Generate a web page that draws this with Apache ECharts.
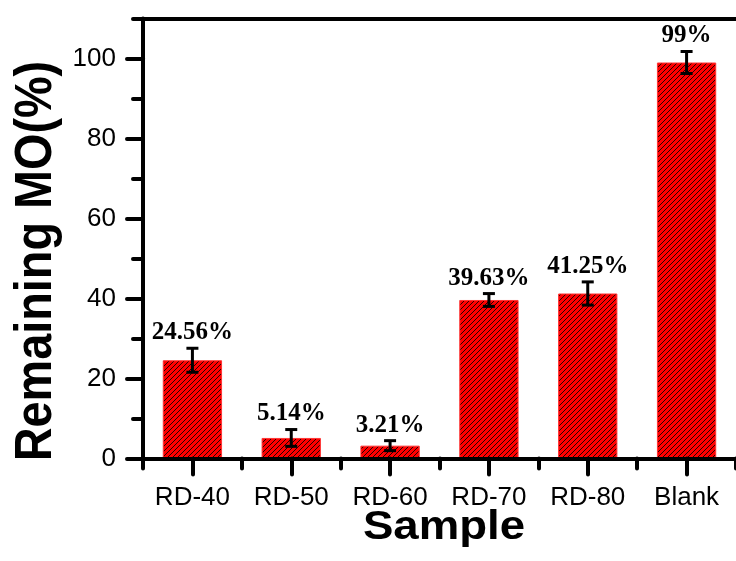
<!DOCTYPE html>
<html>
<head>
<meta charset="utf-8">
<script src="https://cdn.jsdelivr.net/npm/echarts@6/dist/echarts.min.js"></script>
<style>
  html, body { margin: 0; padding: 0; background: #fff; }
  #chart { width: 736px; height: 561px; }
</style>
</head>
<body>
<div id="chart"></div>
<script>
// ---- data ----
const categories = ['RD-40', 'RD-50', 'RD-60', 'RD-70', 'RD-80', 'Blank'];
const remaining = [24.56, 5.14, 3.21, 39.63, 41.25, 99];
const errors = [3.0, 2.1, 1.25, 1.6, 2.9, 2.75];
const yTitle = 'Remaining MO(%)';
const xTitle = 'Sample';

// ---- hatch pattern ----
function makeHatch() {
  const s = 5;
  const c = document.createElement('canvas');
  c.width = s; c.height = s;
  const g = c.getContext('2d');
  g.fillStyle = '#ff0000';
  g.fillRect(0, 0, s, s);
  g.strokeStyle = '#000';
  g.lineWidth = 0.85;
  g.beginPath();
  g.moveTo(-1, s + 1); g.lineTo(s + 1, -1);
  g.moveTo(-1, 1); g.lineTo(1, -1);
  g.moveTo(s - 1, s + 1); g.lineTo(s + 1, s - 1);
  g.stroke();
  return c;
}

const chart = echarts.init(document.getElementById('chart'), null, { renderer: 'canvas' });
const gridLeft = 143, gridWidth = 600, gridBottom = 102.5;
const axisColor = '#000';

const option = {
  backgroundColor: '#fff',
  animation: false,
  grid: [
    { left: gridLeft, width: gridWidth, top: 58.5, bottom: gridBottom },
    { left: gridLeft, width: gridWidth, top: 18.5, bottom: gridBottom }
  ],
  xAxis: [
    {
      gridIndex: 0, type: 'category', data: categories, position: 'bottom', z: 10,
      axisLine: { show: true, lineStyle: { color: axisColor, width: 4 } },
      axisTick: { show: true, alignWithLabel: true, length: 16, lineStyle: { color: axisColor, width: 4, cap: 'round' } },
      axisLabel: { show: true, margin: 26, color: '#000', fontSize: 26, fontFamily: 'Liberation Sans' },
      splitLine: { show: false }
    },
    {
      gridIndex: 1, type: 'category', data: categories, position: 'bottom', z: 10,
      axisLine: { show: false },
      axisTick: { show: true, length: 10, lineStyle: { color: axisColor, width: 4, cap: 'round' } },
      axisLabel: { show: false },
      splitLine: { show: false }
    },
    {
      gridIndex: 1, type: 'category', data: categories, position: 'top', z: 10,
      axisLine: { show: true, lineStyle: { color: axisColor, width: 4 } },
      axisTick: { show: false },
      axisLabel: { show: false },
      splitLine: { show: false }
    }
  ],
  yAxis: [
    {
      gridIndex: 0, type: 'value', min: 0, max: 100, interval: 20, z: 10,
      axisLine: { show: true, lineStyle: { color: axisColor, width: 4 } },
      axisTick: { show: true, length: 16, lineStyle: { color: axisColor, width: 4, cap: 'round' } },
      axisLabel: { show: true, margin: 27, color: '#000', fontSize: 26, fontFamily: 'Liberation Sans' },
      splitLine: { show: false }
    },
    {
      gridIndex: 1, type: 'value', min: 0, max: 110, interval: 10, z: 10,
      axisLine: { show: true, lineStyle: { color: axisColor, width: 4 } },
      axisTick: { show: true, length: 10, lineStyle: { color: axisColor, width: 4, cap: 'round' } },
      axisLabel: { show: false },
      splitLine: { show: false }
    }
  ],
  series: [
    {
      type: 'bar',
      xAxisIndex: 1, yAxisIndex: 1,
      data: remaining,
      barWidth: '60%',
      itemStyle: {
        color: { image: makeHatch(), repeat: 'repeat' },
        borderColor: '#ff3333',
        borderWidth: 1
      }
    },
    {
      type: 'custom',
      xAxisIndex: 1, yAxisIndex: 1,
      data: remaining.map((v, i) => [i, v, errors[i]]),
      z: 5,
      renderItem: function (params, api) {
        const i = api.value(0), v = api.value(1), e = api.value(2);
        const top = api.coord([i, v + e]);
        const bot = api.coord([i, v - e]);
        const hc = 6;
        const ls = { stroke: '#000', lineWidth: 3 };
        return {
          type: 'group',
          children: [
            { type: 'line', shape: { x1: top[0], y1: top[1], x2: bot[0], y2: bot[1] }, style: ls },
            { type: 'line', shape: { x1: top[0] - hc, y1: top[1], x2: top[0] + hc, y2: top[1] }, style: ls },
            { type: 'line', shape: { x1: bot[0] - hc, y1: bot[1], x2: bot[0] + hc, y2: bot[1] }, style: ls },
            {
              type: 'text', x: top[0], y: top[1] - 3,
              style: {
                text: v + '%',
                font: 'bold 25px "Liberation Serif"',
                fill: '#000',
                align: 'center',
                verticalAlign: 'bottom'
              }
            }
          ]
        };
      }
    }
  ],
  graphic: [
    {
      type: 'text', x: 37, y: 261, rotation: Math.PI / 2, scaleX: 0.9,
      style: { text: yTitle, font: 'bold 52px "Liberation Sans"', fill: '#000', align: 'center', verticalAlign: 'middle' }
    },
    {
      type: 'text', x: 444, y: 528, scaleX: 1.14,
      style: { text: xTitle, font: 'bold 40px "Liberation Sans"', fill: '#000', align: 'center', verticalAlign: 'middle' }
    }
  ]
};
chart.setOption(option);
</script>
</body>
</html>
